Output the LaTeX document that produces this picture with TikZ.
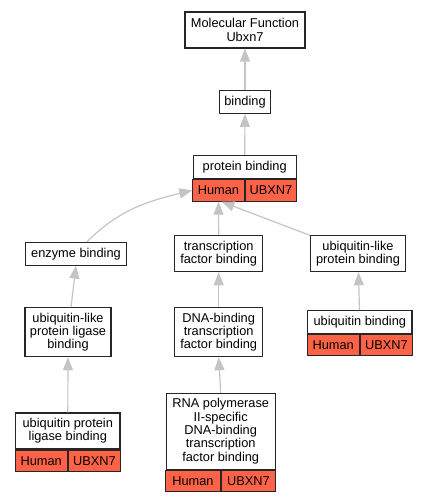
\documentclass[tikz,border=0pt]{standalone}
\usepackage{fontspec}
\setmainfont{Liberation Sans}
\usetikzlibrary{positioning}
\usetikzlibrary{arrows.meta}
\definecolor{hcell}{RGB}{255,99,71}
\definecolor{edgegray}{RGB}{196,196,196}
\tikzset{
	term/.style={draw=black!85, line width=1.1pt, fill=white, align=center, inner sep=0pt, font=\fontsize{12.8}{13.3}\selectfont},
	cell/.style={draw=black!85, line width=1.1pt, fill=hcell, inner sep=0pt, font=\fontsize{12.8}{13.3}\selectfont},
	isa/.style={draw=edgegray, line width=1.2pt, -{Triangle[length=13pt,width=10pt]}}
}

\begin{document}
\begin{tikzpicture}[x=1pt,y=1pt]
		\useasboundingbox (0,0) rectangle (428,-501);
		% top of the tree
		\node[term, minimum width=120, minimum height=36] (MF) at (245,-30) {Molecular Function\\Ubxn7};
		\node[term, minimum width=51.5, minimum height=23.3] (bind) at (245,-101.7) {binding};
		\node[term, minimum width=102.7, minimum height=23] (pb) at (244.7,-166.8) {protein binding};
		\node[cell, anchor=north east, minimum width=51.35, minimum height=21.7] (pbH) at (pb.south) {Human};
		\node[cell, anchor=north west, minimum width=51.35, minimum height=21.7] (pbG) at (pb.south) {UBXN7};
		% second row
		\node[term, minimum width=101.7, minimum height=22.7] (enz) at (76,-253.7) {enzyme binding};
		\node[term, minimum width=88, minimum height=36] (tfb) at (218.7,-253.7) {transcription\\factor binding};
		\node[term, minimum width=94.7, minimum height=36] (ulpb) at (358,-253.7) {ubiquitin-like\\protein binding};
		% third row
		\node[term, minimum width=86, minimum height=49] (ulplb) at (68,-332.2) {ubiquitin-like\\protein ligase\\binding};
		\node[term, minimum width=88, minimum height=49] (dbtf) at (218.7,-332.2) {DNA-binding\\transcription\\factor binding};
		\node[term, minimum width=104.3, minimum height=22.7] (ub) at (359.8,-322) {ubiquitin binding};
		\node[cell, anchor=north east, minimum width=52.15, minimum height=21] (ubH) at (ub.south) {Human};
		\node[cell, anchor=north west, minimum width=52.15, minimum height=21] (ubG) at (ub.south) {UBXN7};
		% bottom row
		\node[term, minimum width=104.3, minimum height=36] (uplb) at (67.8,-431) {ubiquitin protein\\ligase binding};
		\node[cell, anchor=north east, minimum width=52.15, minimum height=21.7] (uplbH) at (uplb.south) {Human};
		\node[cell, anchor=north west, minimum width=52.15, minimum height=21.7] (uplbG) at (uplb.south) {UBXN7};
		\node[term, minimum width=108.7, minimum height=75.7] (rna) at (220.7,-431.2) {RNA polymerase\\II-specific\\DNA-binding\\transcription\\factor binding};
		\node[cell, anchor=north east, minimum width=54.35, minimum height=21.7] (rnaH) at (rna.south) {Human};
		\node[cell, anchor=north west, minimum width=54.35, minimum height=21.7] (rnaG) at (rna.south) {UBXN7};
		% is_a edges
		\draw[isa] (bind) -- (MF);
		\draw[isa] (pb) -- (bind);
		\draw[isa] ([xshift=11pt]enz.north) to[out=45,in=194] (pbH.west);
		\draw[isa] (tfb.north) -- (pbH.south);
		\draw[isa] (ulpb) -- ([xshift=3pt]pbH.south);
		\draw[isa] ([xshift=3pt]ulplb.north) -- (enz.south);
		\draw[isa] (dbtf) -- (tfb);
		\draw[isa] (ub) -- (ulpb);
		\draw[isa] (uplb) -- (ulplb);
		\draw[isa] (rna.north) -- (dbtf.south);
	\end{tikzpicture}
\end{document}
